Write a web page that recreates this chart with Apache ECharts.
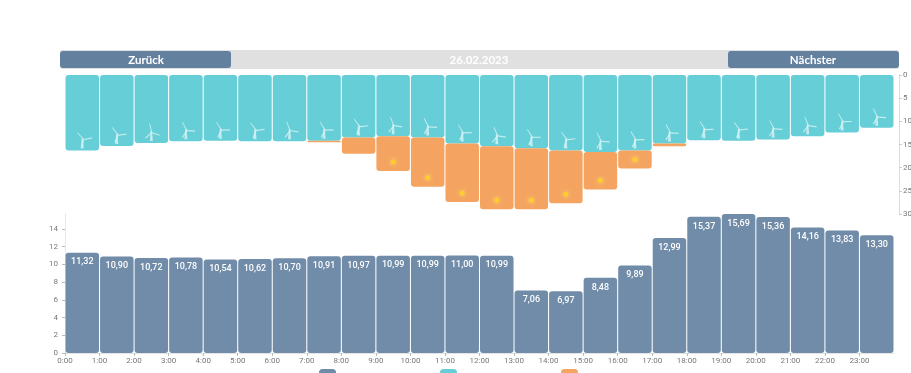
<!DOCTYPE html>
<html>
<head>
<meta charset="utf-8">
<style>
  html, body { margin: 0; padding: 0; background: #fff; overflow: hidden; }
  #chart { width: 911px; height: 373px; }
</style>
<script src="https://cdn.jsdelivr.net/npm/echarts@6/dist/echarts.min.js"></script>
</head>
<body>
<div id="chart"></div>
<script>
const hours = ["0:00","1:00","2:00","3:00","4:00","5:00","6:00","7:00","8:00","9:00","10:00","11:00","12:00","13:00","14:00","15:00","16:00","17:00","18:00","19:00","20:00","21:00","22:00","23:00"];
const windValues = [16.3,15.3,14.7,14.3,14.2,14.3,14.3,14.2,13.5,13.2,13.5,14.8,15.4,15.8,16.3,16.6,16.3,14.8,14.1,14.2,13.9,13.2,12.4,11.4];
const solarValues = [0,0,0,0,0,0,0,0.3,3.5,7.5,10.6,12.6,13.6,13.2,11.4,8.1,3.9,0.6,0,0,0,0,0,0];
const totalValues = [11.32,10.90,10.72,10.78,10.54,10.62,10.70,10.91,10.97,10.99,10.99,11.00,10.99,7.06,6.97,8.48,9.89,12.99,15.37,15.69,15.36,14.16,13.83,13.30];
const rotorAngles = [40,35,10,25,30,35,20,30,35,20,25,30,20,30,35,25,30,25,30,35,25,20,30,25];
const dateLabel = "26.02.2023";
const prevLabel = "Zurück";
const nextLabel = "Nächster";

const windName = "Wind";
const solarName = "Solar";
const totalName = "Verbrauch";

const axisFont = "Roboto, sans-serif";

const chart = echarts.init(document.getElementById("chart"));

// turbine mast and rotor as separate marks so only the rotor turns
const towerPath = "path://M-0.5,0 L0.5,0 L1,10 L-1,10 Z";
const rotorPath = "path://M-0.5,0 L-0.8,-8 L0,-9 L0.6,0 L8,3.6 L7.4,4.6 L0,1 L-7,5 L-7.6,4 Z";

chart.setOption({
  animation: false,
  legend: {
    left: 319,
    top: 369,
    itemWidth: 17,
    itemHeight: 14,
    itemGap: 104,
    padding: 0,
    formatter: () => "",
    selectedMode: false,
    data: [totalName, windName, solarName],
    itemStyle: { borderRadius: 3 }
  },
  grid: [
    { left: 65, top: 75, width: 829, height: 139, outerBoundsMode: "none" },
    { left: 65, top: 214, width: 829, height: 139, outerBoundsMode: "none" }
  ],
  xAxis: [
    { type: "category", gridIndex: 0, data: hours, show: false },
    { type: "category", gridIndex: 1, data: hours, show: false },
    {
      type: "value",
      gridIndex: 1,
      min: 0,
      max: 24,
      interval: 1,
      position: "bottom",
      splitLine: { show: false },
      axisLine: { show: true, lineStyle: { color: "#e4e4e4" } },
      axisTick: { length: 3, lineStyle: { color: "#bbb" } },
      axisLabel: {
        color: "#777",
        fontFamily: axisFont,
        fontSize: 8,
        margin: 4,
        showMaxLabel: false,
        formatter: (v) => hours[v] || ""
      }
    }
  ],
  yAxis: [
    {
      type: "value",
      gridIndex: 0,
      inverse: true,
      position: "right",
      offset: 5,
      min: 0,
      max: 30,
      interval: 5,
      splitLine: { show: false },
      axisLine: { show: true, lineStyle: { color: "#ddd" } },
      axisTick: { show: true, length: 3, lineStyle: { color: "#ccc" } },
      axisLabel: {
        color: "#777",
        fontFamily: axisFont,
        fontSize: 8,
        margin: 4
      }
    },
    {
      type: "value",
      gridIndex: 1,
      position: "left",
      offset: 6,
      min: 0,
      max: Math.max(...totalValues),
      splitLine: { show: false },
      axisLine: { show: true, lineStyle: { color: "#e8e8e8" } },
      axisTick: { show: true, length: 3, customValues: [0,2,4,6,8,10,12,14], lineStyle: { color: "#bbb" } },
      axisLabel: {
        color: "#777",
        fontFamily: axisFont,
        fontSize: 8,
        margin: 1,
        customValues: [0,2,4,6,8,10,12,14]
      }
    }
  ],
  graphic: [
    { type: "rect", shape: { x: 60, y: 50, width: 839, height: 19, r: 2 }, style: { fill: "#e0e0e0" } },
    { type: "rect", shape: { x: 60, y: 51, width: 171, height: 17, r: 3 }, style: { fill: "#64809f" } },
    { type: "rect", shape: { x: 728, y: 51, width: 171, height: 17, r: 3 }, style: { fill: "#64809f" } },
    { type: "text", x: 146, y: 60, style: { text: prevLabel, fill: "#fff", font: "bold 11.5px Lato, sans-serif", align: "center", verticalAlign: "middle" } },
    { type: "text", x: 813, y: 60, style: { text: nextLabel, fill: "#fff", font: "bold 11.5px Lato, sans-serif", align: "center", verticalAlign: "middle" } },
    { type: "text", x: 479, y: 60, style: { text: dateLabel, fill: "#fff", font: "bold 11.5px Lato, sans-serif", align: "center", verticalAlign: "middle" } }
  ],
  series: [
    {
      name: windName,
      type: "bar",
      stack: "supply",
      xAxisIndex: 0,
      yAxisIndex: 0,
      data: windValues,
      barCategoryGap: "3%",
      itemStyle: { color: "#66ced6", borderRadius: 3 }
    },
    {
      name: solarName,
      type: "bar",
      stack: "supply",
      xAxisIndex: 0,
      yAxisIndex: 0,
      data: solarValues,
      barCategoryGap: "3%",
      itemStyle: { color: "#f4a460", borderRadius: 3 }
    },
    {
      name: totalName,
      type: "bar",
      xAxisIndex: 1,
      yAxisIndex: 1,
      data: totalValues,
      barCategoryGap: "3%",
      itemStyle: { color: "#708ca8", borderRadius: 3 },
      label: {
        show: true,
        position: "insideTop",
        distance: 5,
        color: "#fff",
        fontFamily: "Roboto, sans-serif",
        fontWeight: 500,
        fontSize: 9,
        formatter: (p) => p.value.toFixed(2).replace(".", ",")
      }
    },
    {
      name: "tower",
      type: "scatter",
      xAxisIndex: 0,
      yAxisIndex: 0,
      data: windValues,
      symbol: towerPath,
      symbolSize: [3, 10],
      symbolOffset: [0, -7],
      silent: true,
      itemStyle: { color: "#d8f4f6" }
    },
    {
      name: "rotor",
      type: "scatter",
      xAxisIndex: 0,
      yAxisIndex: 0,
      data: windValues,
      symbol: rotorPath,
      symbolSize: 15,
      symbolOffset: [0, -13],
      symbolRotate: (v, p) => rotorAngles[p.dataIndex],
      silent: true,
      itemStyle: { color: "#d8f4f6" }
    },
    {
      name: "sun",
      type: "scatter",
      xAxisIndex: 0,
      yAxisIndex: 0,
      data: windValues.map((v, i) => (solarValues[i] > 3.6 ? v + solarValues[i] : "-")),
      symbol: "circle",
      symbolSize: 5,
      symbolOffset: [0, -9],
      silent: true,
      itemStyle: { color: "#ffd21f", shadowBlur: 5, shadowColor: "#ffe680" }
    }
  ]
});
</script>
</body>
</html>
